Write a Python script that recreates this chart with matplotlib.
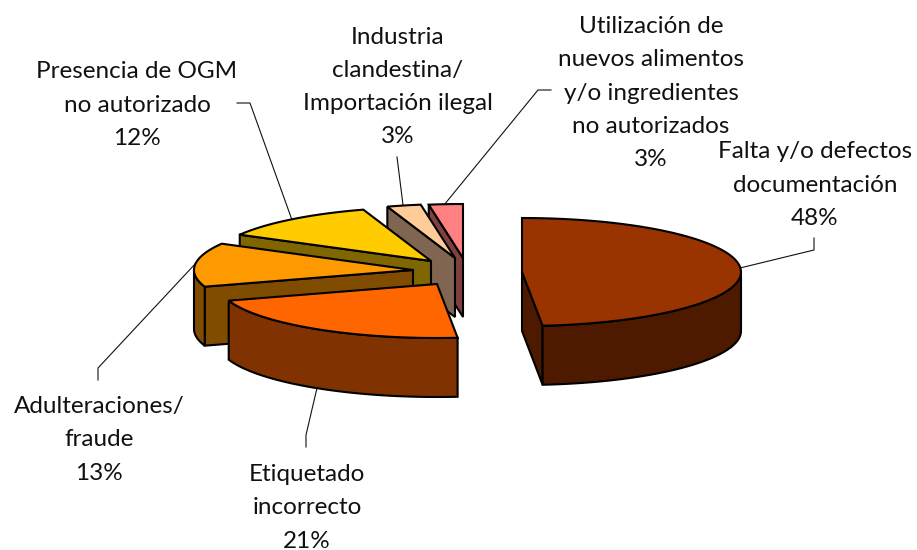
import numpy as np
import matplotlib
matplotlib.use('Agg')
import matplotlib.pyplot as plt

# Share of each slice, clockwise from 12 o'clock (labels are the rounded ones)
categories = ['Falta y/o defectos\ndocumentación',
              'Etiquetado\nincorrecto',
              'Adulteraciones/\nfraude',
              'Presencia de OGM\nno autorizado',
              'Industria\nclandestina/\nImportación ilegal',
              'Utilización de\nnuevos alimentos\ny/o ingredientes\nno autorizados']
shares = [48.5, 21.5, 13.1, 11.9, 2.5, 2.5]
pct_labels = ['48%', '21%', '13%', '12%', '3%', '3%']

top_colors = ['#993300', '#ff6600', '#ff9900', '#ffcc00', '#ffcc99', '#ff8080']
wall_colors = ['#4d1a00', '#803300', '#804d00', '#806600', '#806650', '#804040']

# Pie geometry in pixels
cx, cy = 465, 262
rx, ry = 219, 54
depth = 59
offset_x = [57, -28, -52, -34, -10, -2]
offset_y = [10, 22, 8, -1, -4, -4]

label_pos = [(815, 185), (307, 508), (99, 440), (137, 105), (398, 87), (651, 93)]
leaders = [[(740, 268), (814, 250), (814, 238)],
           [(317, 388), (306, 435), (306, 447)],
           [(196, 263), (98, 368), (98, 380)],
           [(292, 220), (250, 103), (237, 103)],
           [(403, 205), (397, 157)],
           [(444, 205), (538, 90), (551, 90)]]


def rim(x0, y0, a0, a1):
    t = np.radians(np.linspace(a0, a1, 80))
    return x0 + rx * np.sin(t), y0 - ry * np.cos(t)


def draw_slice(ax, x0, y0, a0, a1, top, wall):
    style = dict(edgecolor='black', linewidth=1.5, joinstyle='miter')
    # radial wall, only when it looks towards the viewer
    if a0 >= 180:
        xs, ys = rim(x0, y0, a0, a0)
        ax.fill([x0, xs[0], xs[0], x0], [y0, ys[0], ys[0] + depth, y0 + depth], facecolor=wall, **style)
    if a1 <= 180:
        xs, ys = rim(x0, y0, a1, a1)
        ax.fill([x0, xs[0], xs[0], x0], [y0, ys[0], ys[0] + depth, y0 + depth], facecolor=wall, **style)
    # outer wall on the front half
    lo, hi = max(a0, 90), min(a1, 270)
    if lo < hi:
        xs, ys = rim(x0, y0, lo, hi)
        ax.fill(np.r_[xs, xs[::-1]], np.r_[ys, ys[::-1] + depth], facecolor=wall, **style)
    xs, ys = rim(x0, y0, a0, a1)
    ax.fill(np.r_[x0, xs], np.r_[y0, ys], facecolor=top, **style)


fig = plt.figure(figsize=(9.17, 5.5), dpi=100)
ax = fig.add_axes([0, 0, 1, 1])
ax.set_xlim(0, 917)
ax.set_ylim(550, 0)
ax.axis('off')

edges = np.r_[0, np.cumsum(shares)] * 360 / sum(shares)

for path in leaders:
    ax.plot(*zip(*path), color='#111111', linewidth=0.8, zorder=1)

# back slices first so the front ones cover them
for i in [5, 4, 3, 2, 1, 0]:
    draw_slice(ax, cx + offset_x[i], cy + offset_y[i], edges[i], edges[i + 1], top_colors[i], wall_colors[i])

for name, pct, (x, y) in zip(categories, pct_labels, label_pos):
    ax.text(x, y, name + '\n' + pct, ha='center', va='center', family='Lato', fontsize=17.5, linespacing=1.71, color='#111111', zorder=5)

fig.savefig('out.png', dpi=100)
